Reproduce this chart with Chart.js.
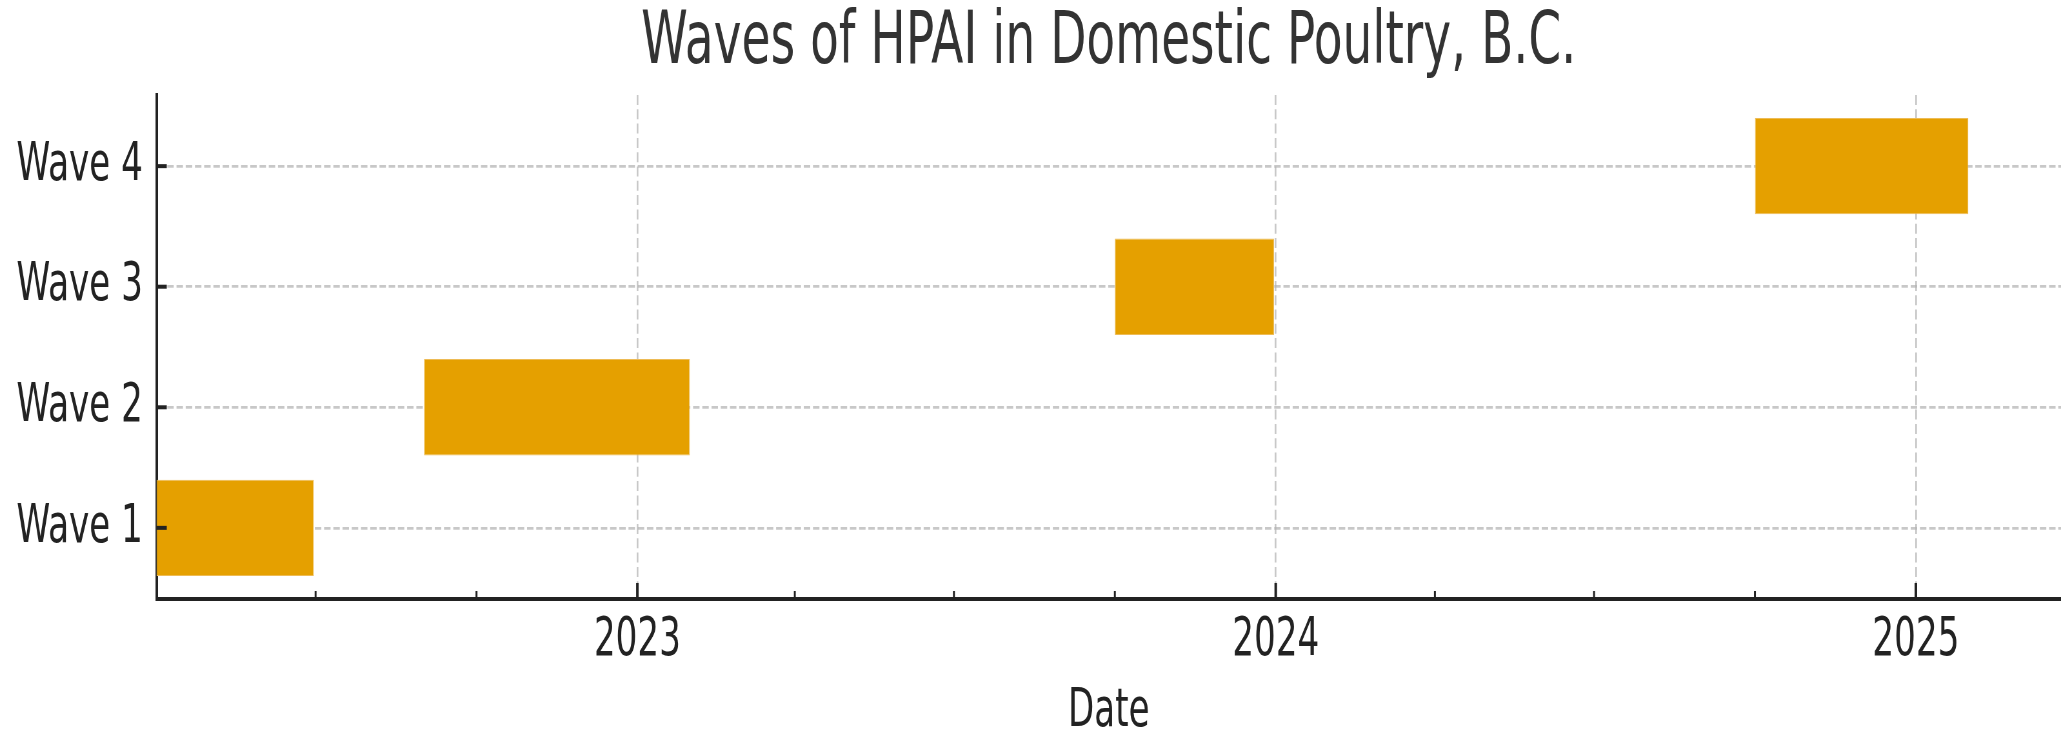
<!DOCTYPE html>
<html>
<head>
<meta charset="utf-8">
<title>Waves of HPAI in Domestic Poultry, B.C.</title>
<script src="https://cdn.jsdelivr.net/npm/chart.js@4.4.1/dist/chart.umd.min.js"></script>
<style>
  html, body { margin: 0; padding: 0; background: #fff; overflow: hidden; }
  /* the source figure is horizontally squeezed, so draw wide and squeeze */
  #wrap { width: 3195px; height: 733px; transform: scaleX(0.64507); transform-origin: 0 0; }
</style>
</head>
<body>
<div id="wrap"><canvas id="chart-waves" width="3195" height="733"></canvas></div>
<script>
const waves = ["Wave 1", "Wave 2", "Wave 3", "Wave 4"];
const waveStart = ["2022-04-01", "2022-09-01", "2023-10-01", "2024-10-01"];
const waveEnd = ["2022-06-30", "2023-01-31", "2023-12-31", "2025-01-31"];
const yearTicks = ["2023-01-01", "2024-01-01", "2025-01-01"];
const yearLabels = ["2023", "2024", "2025"];
const quarterTicks = [
  "2022-07-01", "2022-10-01",
  "2023-04-01", "2023-07-01", "2023-10-01",
  "2024-04-01", "2024-07-01", "2024-10-01",
];
const xFrom = "2022-04-01";
const xTo = "2025-03-25";

const BAR = "#E5A000";
const GRID = "rgba(176,176,176,0.7)";
const INK = "#222222";

const yearStamps = yearTicks.map((d) => Date.parse(d));
const allTicks = yearTicks.concat(quarterTicks).map((d) => Date.parse(d)).sort((a, b) => a - b);

Chart.defaults.font.family = "'DejaVu Sans', sans-serif";

// matplotlib style ticks pointing into the plot
const inwardTicks = {
  id: "inwardTicks",
  afterDraw(chart) {
    const { ctx, chartArea, scales } = chart;
    ctx.save();
    ctx.strokeStyle = INK;
    scales.x.ticks.forEach((t) => {
      const px = scales.x.getPixelForValue(t.value);
      const major = yearStamps.includes(t.value);
      ctx.lineWidth = major ? 4 : 3;
      ctx.beginPath();
      ctx.moveTo(px, chartArea.bottom);
      ctx.lineTo(px, chartArea.bottom - (major ? 16 : 8));
      ctx.stroke();
    });
    scales.y.ticks.forEach((t) => {
      const py = scales.y.getPixelForValue(t.value);
      ctx.lineWidth = 4;
      ctx.beginPath();
      ctx.moveTo(chartArea.left, py);
      ctx.lineTo(chartArea.left + 16, py);
      ctx.stroke();
    });
    ctx.restore();
  },
};

const canvas = document.getElementById("chart-waves");
new Chart(canvas, {
  type: "bar",
  data: {
    datasets: [
      {
        label: "HPAI waves",
        data: waves.map((w, i) => ({ x: [Date.parse(waveStart[i]), Date.parse(waveEnd[i])], y: i })),
        backgroundColor: BAR,
        borderColor: "#EDBB55",
        borderWidth: 1,
        borderSkipped: false,
        categoryPercentage: 1,
        barPercentage: 0.8,
      },
    ],
  },
  options: {
    indexAxis: "y",
    responsive: false,
    animation: false,
    devicePixelRatio: 1,
    layout: { padding: 0 },
    scales: {
      x: {
        type: "linear",
        min: Date.parse(xFrom),
        max: Date.parse(xTo),
        beginAtZero: false,
        z: 1,
        afterBuildTicks: (scale) => {
          scale.ticks = allTicks.map((v) => ({ value: v }));
        },
        afterFit: (scale) => {
          scale.height = 134;
        },
        ticks: {
          autoSkip: false,
          maxRotation: 0,
          padding: 10,
          color: INK,
          font: { size: 53, lineHeight: 1.2 },
          callback: (v) => {
            const k = yearStamps.indexOf(v);
            return k >= 0 ? yearLabels[k] : "";
          },
        },
        grid: {
          drawTicks: false,
          lineWidth: 2.7,
          color: (c) => (c.tick && yearStamps.includes(c.tick.value) ? GRID : "rgba(0,0,0,0)"),
        },
        border: { display: true, color: INK, width: 4, dash: [10, 4.3] },
        title: {
          display: true,
          text: "Date",
          color: INK,
          font: { size: 53, lineHeight: 0.8 },
          padding: { top: 0, bottom: 0 },
        },
      },
      y: {
        type: "linear",
        min: -0.59,
        max: 3.59,
        offset: false,
        z: 1,
        afterBuildTicks: (scale) => {
          scale.ticks = waves.map((w, i) => ({ value: i }));
        },
        afterFit: (scale) => {
          scale.width = 242.5;
        },
        ticks: {
          padding: 21,
          color: INK,
          font: { size: 53 },
          callback: (v) => (waves[v] !== undefined ? waves[v] : ""),
        },
        grid: { drawTicks: false, offset: false, lineWidth: 2.7, color: GRID },
        border: { display: true, color: INK, width: 4, dash: [10, 4.3] },
      },
    },
    plugins: {
      legend: { display: false },
      tooltip: { enabled: false },
      title: {
        display: true,
        fullSize: false,
        text: "Waves of HPAI in Domestic Poultry, B.C.",
        color: "#333333",
        font: { size: 73, weight: "normal", lineHeight: 1 },
        padding: { top: 8, bottom: 14 },
      },
    },
  },
  plugins: [inwardTicks],
});
</script>
</body>
</html>
